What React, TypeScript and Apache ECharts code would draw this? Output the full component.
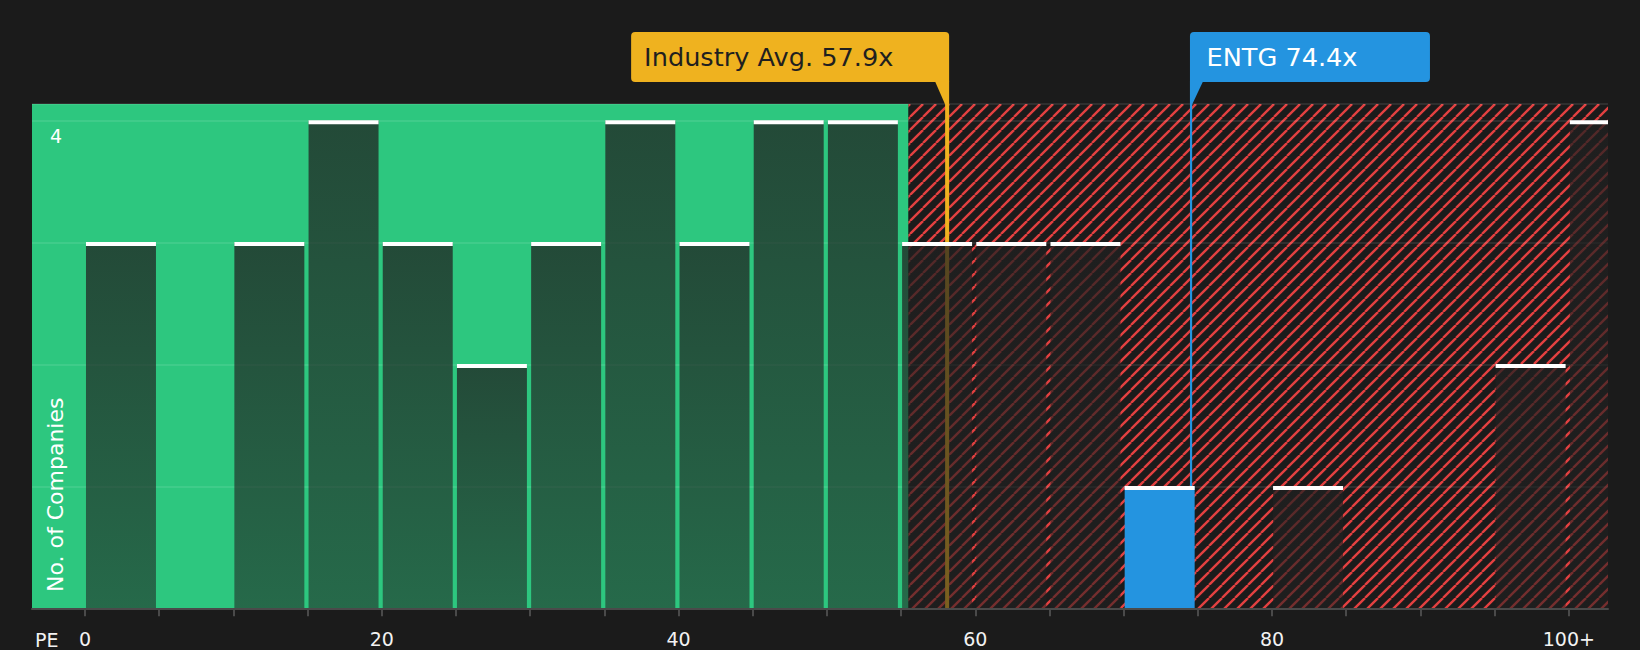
import React, { useEffect, useRef } from 'react';
import * as echarts from 'echarts';

// ---- data ----
const binStarts = [0, 5, 10, 15, 20, 25, 30, 35, 40, 45, 50, 55, 60, 65, 70, 75, 80, 85, 90, 95, 100];
const binCounts = [3, 0, 3, 4, 3, 2, 3, 4, 3, 4, 4, 3, 3, 3, 1, 0, 1, 0, 0, 2, 4];
const binWidth = 5;
const highlightBinStart = 70;
const xTickValues = [0, 5, 10, 15, 20, 25, 30, 35, 40, 45, 50, 55, 60, 65, 70, 75, 80, 85, 90, 95, 100];
const xLabelValues = [0, 20, 40, 60, 80, 100];
const xLabelTexts = ['0', '20', '40', '60', '80', '100+'];
const yLabelValues = [4];
const markerNames = ['Industry Avg.', 'ENTG'];
const markerValues = [57.9, 74.4];
const fairZoneEnd = 55.5;
const xMin = -3.57;
const xMax = 102.64;
const yMax = 4.137;

// ---- style ----
const FONT = '"DejaVu Sans", sans-serif';
const BG = '#1b1b1b';
const GREEN = '#2dc77f';
const RED = '#e34141';
const YELLOW = '#efb21f';
const BLUE = '#2494e0';

function makeHatch(): HTMLCanvasElement {
  const s = 13;
  const c = document.createElement('canvas');
  c.width = s;
  c.height = s;
  const ctx = c.getContext('2d')!;
  ctx.fillStyle = BG;
  ctx.fillRect(0, 0, s, s);
  ctx.strokeStyle = RED;
  ctx.lineWidth = 2.4;
  for (const k of [-1, 0, 1]) {
    ctx.beginPath();
    ctx.moveTo(k * s, s);
    ctx.lineTo(k * s + s, 0);
    ctx.stroke();
  }
  return c;
}

export default function App() {
  const ref = useRef<HTMLDivElement>(null);

  useEffect(() => {
    document.body.style.margin = '0';
    document.body.style.background = BG;
    const chart = echarts.init(ref.current!, null, { renderer: 'svg' });
    const hatch = makeHatch();

    const zones = [
      [xMin, fairZoneEnd, 0],
      [fairZoneEnd, xMax, 1],
    ];
    const bins = binStarts.map((s, i) => [s, s + binWidth, binCounts[i]]);
    const markers = markerValues.map((v, i) => [v, i]);

    const barGradient = new echarts.graphic.LinearGradient(0, 0, 0, 1, [
      { offset: 0, color: 'rgba(32,32,32,0.75)' },
      { offset: 1, color: 'rgba(32,32,32,0.56)' },
    ]);

    const option: any = {
      animation: false,
      backgroundColor: BG,
      textStyle: { fontFamily: FONT },
      grid: { left: 32, right: 32, top: 104, bottom: 41.7, containLabel: false },
      xAxis: {
        type: 'value',
        min: xMin,
        max: xMax,
        z: 5,
        axisLine: { show: true, lineStyle: { color: '#4a4a4a', width: 2 } },
        axisTick: {
          show: true,
          customValues: xTickValues,
          length: 8,
          lineStyle: { color: '#4a4a4a', width: 2 },
        },
        axisLabel: {
          customValues: xLabelValues,
          formatter: (v: number) => {
            const i = xLabelValues.indexOf(v);
            return i >= 0 ? xLabelTexts[i] : '';
          },
          color: '#f2f2f2',
          fontSize: 19,
          fontFamily: FONT,
          margin: 21.5,
        },
        splitLine: { show: false },
      },
      yAxis: {
        type: 'value',
        min: 0,
        max: yMax,
        interval: 1,
        z: 1,
        axisLine: { show: false },
        axisTick: { show: false },
        axisLabel: {
          customValues: yLabelValues,
          inside: true,
          margin: 18,
          color: '#ffffff',
          fontSize: 19,
          fontFamily: FONT,
          verticalAlign: 'top',
          lineHeight: 31,
        },
        splitLine: { show: true, lineStyle: { color: 'rgba(255,255,255,0.12)', width: 1.5 } },
      },
      graphic: [
        {
          type: 'text',
          x: 55,
          y: 592,
          rotation: Math.PI / 2,
          z: 10,
          style: {
            text: 'No. of Companies',
            fill: '#ffffff',
            fontSize: 22,
            fontFamily: FONT,
            align: 'left',
            verticalAlign: 'middle',
          },
        },
        {
          type: 'text',
          x: 35,
          y: 639.5,
          z: 10,
          style: {
            text: 'PE',
            fill: '#f2f2f2',
            fontSize: 19,
            fontFamily: FONT,
            align: 'left',
            verticalAlign: 'middle',
          },
        },
      ],
      series: [
        {
          type: 'custom',
          name: 'zones',
          z: 0,
          silent: true,
          clip: true,
          data: zones,
          renderItem: (params: any, api: any) => {
            const p0 = api.coord([api.value(0), yMax]);
            const p1 = api.coord([api.value(1), 0]);
            const isRed = api.value(2) === 1;
            return {
              type: 'rect',
              shape: { x: p0[0], y: p0[1], width: p1[0] - p0[0], height: p1[1] - p0[1] },
              style: isRed
                ? { fill: { image: hatch, repeat: 'repeat', imageWidth: 13, imageHeight: 13 } }
                : { fill: GREEN },
            };
          },
        },
        {
          type: 'custom',
          name: 'markerLines',
          z: 2,
          silent: true,
          clip: false,
          data: markers,
          renderItem: (params: any, api: any) => {
            const v = api.value(0);
            const i = api.value(1);
            const cs = params.coordSys;
            const px = api.coord([v, 0])[0];
            const top = cs.y;
            const bottom = cs.y + cs.height;
            if (i === 0) {
              return {
                type: 'rect',
                shape: { x: px + 1, y: top, width: 4, height: bottom - top },
                style: { fill: YELLOW },
              };
            }
            return {
              type: 'rect',
              shape: { x: px + 1, y: top, width: 2.2, height: bottom - top },
              style: { fill: BLUE },
            };
          },
        },
        {
          type: 'custom',
          name: 'bins',
          z: 3,
          silent: true,
          clip: true,
          data: bins,
          renderItem: (params: any, api: any) => {
            const start = api.value(0);
            const end = api.value(1);
            const count = api.value(2);
            if (!count) return { type: 'group', children: [] };
            const pTop = api.coord([start, count]);
            const pEnd = api.coord([end, 0]);
            const x = pTop[0] + 1;
            const w = pEnd[0] - pTop[0] - 4.2;
            const isHL = start === highlightBinStart;
            return {
              type: 'group',
              children: [
                {
                  type: 'rect',
                  shape: { x, y: pTop[1], width: w, height: pEnd[1] - pTop[1] },
                  style: { fill: isHL ? BLUE : barGradient },
                },
                {
                  type: 'rect',
                  shape: { x, y: pTop[1] - 0.5, width: w, height: 4 },
                  style: { fill: '#ffffff' },
                },
              ],
            };
          },
        },
        {
          type: 'custom',
          name: 'markerLabels',
          z: 6,
          silent: true,
          clip: false,
          data: markers,
          renderItem: (params: any, api: any) => {
            const v = api.value(0);
            const i = api.value(1);
            const cs = params.coordSys;
            const px = api.coord([v, 0])[0];
            const top = cs.y;
            const boxTop = 32;
            const boxH = 50;
            const boxBottom = boxTop + boxH;
            const text = `${markerNames[i]} ${v}x`;
            if (i === 0) {
              const boxW = 318;
              const right = px + 5;
              const left = right - boxW;
              return {
                type: 'group',
                children: [
                  {
                    type: 'rect',
                    shape: { x: left, y: boxTop, width: boxW, height: boxH, r: [4, 4, 0, 4] },
                    style: { fill: YELLOW },
                  },
                  {
                    type: 'polygon',
                    shape: {
                      points: [
                        [right - 14, boxBottom - 0.5],
                        [right, boxBottom - 0.5],
                        [right, top + 0.5],
                        [right - 4, top + 0.5],
                      ],
                    },
                    style: { fill: YELLOW },
                  },
                  {
                    type: 'text',
                    x: left + 13,
                    y: boxTop + boxH / 2,
                    style: {
                      text,
                      fill: '#1f1f1f',
                      fontSize: 25.6,
                      fontFamily: FONT,
                      align: 'left',
                      verticalAlign: 'middle',
                    },
                  },
                ],
              };
            }
            const boxW = 240;
            const left = px + 1;
            return {
              type: 'group',
              children: [
                {
                  type: 'rect',
                  shape: { x: left, y: boxTop, width: boxW, height: boxH, r: [4, 4, 4, 0] },
                  style: { fill: BLUE },
                },
                {
                  type: 'polygon',
                  shape: {
                    points: [
                      [left, boxBottom - 0.5],
                      [left + 13, boxBottom - 0.5],
                      [left + 2.2, top + 0.5],
                      [left, top + 0.5],
                    ],
                  },
                  style: { fill: BLUE },
                },
                {
                  type: 'text',
                  x: left + 16.5,
                  y: boxTop + boxH / 2,
                  style: {
                    text,
                    fill: '#ffffff',
                    fontSize: 25.6,
                    fontFamily: FONT,
                    align: 'left',
                    verticalAlign: 'middle',
                  },
                },
              ],
            };
          },
        },
      ],
    };

    chart.setOption(option);
    return () => {
      chart.dispose();
    };
  }, []);

  return (
    <div
      ref={ref}
      style={{ position: 'fixed', left: 0, top: 0, width: 1640, height: 650 }}
    />
  );
}
